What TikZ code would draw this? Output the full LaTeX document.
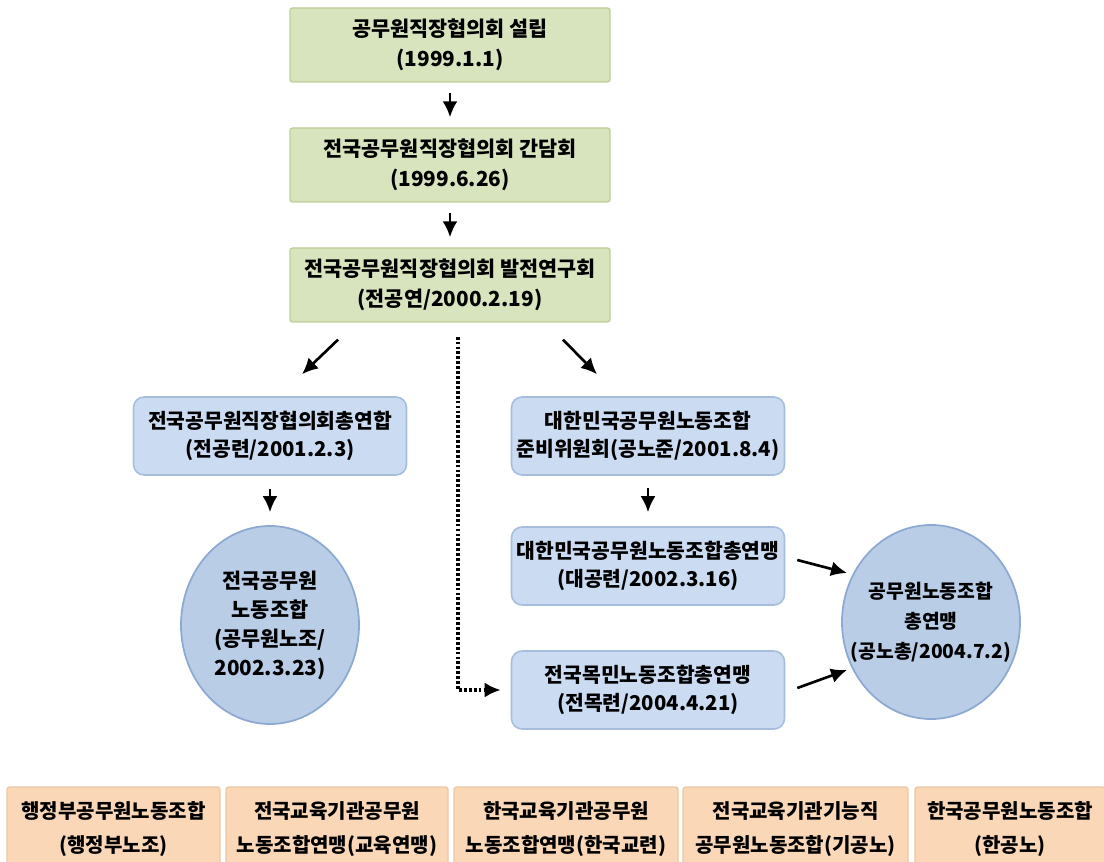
\documentclass[tikz,border=0pt]{standalone}
\usepackage{fontspec}
\setmainfont{Noto Sans CJK KR}
\usepackage{tikz}
\usetikzlibrary{positioning,shapes,arrows.meta,calc}

\definecolor{greenfill}{HTML}{D8E4BD}
\definecolor{greenline}{HTML}{BCCF98}
\definecolor{bluefill}{HTML}{CBDCF2}
\definecolor{blueline}{HTML}{A6BDDC}
\definecolor{ballfill}{HTML}{B9CDE6}
\definecolor{ballline}{HTML}{8DA9D2}
\definecolor{orgfill}{HTML}{FAD8B7}
\definecolor{orgline}{HTML}{EBC8A6}

\begin{document}
\begin{tikzpicture}[
    greenbox/.style={draw=greenline, fill=greenfill, line width=0.8pt, rounded corners=1.5pt,
        minimum width=6.4cm, minimum height=1.48cm, inner sep=0pt, align=center,
        font=\bfseries\fontsize{11.8}{17}\selectfont},
    bluebox/.style={draw=blueline, fill=bluefill, line width=0.9pt, rounded corners=6pt,
        minimum width=5.46cm, minimum height=1.56cm, inner sep=0pt, align=center,
        font=\bfseries\fontsize{11.6}{16}\selectfont},
    unionball/.style={ellipse, draw=ballline, fill=ballfill, line width=1pt,
        minimum width=3.56cm, inner sep=0pt, align=center,
        font=\bfseries\fontsize{11.8}{16.5}\selectfont},
    orgbox/.style={draw=orgline, fill=orgfill, line width=0.8pt, rounded corners=1.5pt,
        minimum height=1.68cm, inner sep=0pt, align=center,
        font=\bfseries\fontsize{11.4}{19}\selectfont},
    arr/.style={-{Latex[length=3.2mm, width=3mm]}, line width=1.5pt}
]
    \useasboundingbox (0,0) rectangle (22.08,-17.24);
    \clip (0,0) rectangle (22.08,-17.24);

    % council stage
    \node[greenbox] (G1) at (9.0,-0.9) {공무원직장협의회 설립\\(1999.1.1)};
    \node[greenbox] (G2) at (9.0,-3.3) {전국공무원직장협의회 간담회\\(1999.6.26)};
    \node[greenbox] (G3) at (9.0,-5.7) {전국공무원직장협의회 발전연구회\\(전공연/2000.2.19)};

    % two branches
    \node[bluebox] (B1) at (5.4,-8.72) {전국공무원직장협의회총연합\\(전공련/2001.2.3)};
    \node[unionball, minimum height=3.96cm] (E1) at (5.4,-12.5) {전국공무원\\노동조합\\(공무원노조/\\2002.3.23)};
    \node[bluebox] (R1) at (12.96,-8.72) {대한민국공무원노동조합\\준비위원회(공노준/2001.8.4)};
    \node[bluebox] (R2) at (12.96,-11.32) {대한민국공무원노동조합총연맹\\(대공련/2002.3.16)};
    \node[bluebox] (R3) at (12.96,-13.8) {전국목민노동조합총연맹\\(전목련/2004.4.21)};
    \node[unionball, minimum height=3.88cm, inner xsep=-0.62cm,
        font=\bfseries\fontsize{11}{17}\selectfont] (E2) at (18.62,-12.44) {공무원노동조합\\총연맹\\(공노총/2004.7.2)};

    % unions at the bottom
    \node[orgbox, minimum width=4.26cm] (O1) at (2.27,-16.58) {행정부공무원노동조합\\(행정부노조)};
    \node[orgbox, minimum width=4.44cm] (O2) at (6.74,-16.58) {전국교육기관공무원\\노동조합연맹(교육연맹)};
    \node[orgbox, minimum width=4.48cm] (O3) at (11.32,-16.58) {한국교육기관공무원\\노동조합연맹(한국교련)};
    \node[orgbox, minimum width=4.5cm] (O4) at (15.91,-16.58) {전국교육기관기능직\\공무원노동조합(기공노)};
    \node[orgbox, minimum width=3.8cm] (O5) at (20.2,-16.58) {한국공무원노동조합\\(한공노)};

    \draw[arr, shorten <=0.2cm, shorten >=0.2cm] (G1) -- (G2);
    \draw[arr, shorten <=0.2cm, shorten >=0.2cm] (G2) -- (G3);
    \draw[arr] ([xshift=-2.24cm, yshift=-0.34cm]G3.south) -- ([xshift=0.64cm, yshift=0.44cm]B1.north);
    \draw[arr] ([xshift=2.26cm, yshift=-0.34cm]G3.south) -- ([xshift=-1.02cm, yshift=0.44cm]R1.north);
    \draw[arr, shorten <=0.26cm, shorten >=0.26cm] (B1) -- (E1);
    \draw[arr, shorten <=0.24cm, shorten >=0.28cm] (R1) -- (R2);
    \draw[arr, line width=1.8pt, dash pattern=on 1.6pt off 1.2pt, shorten >=0.2cm]
        ([xshift=0.16cm, yshift=-0.28cm]G3.south) |- (R3.west);
    \draw[arr] ([xshift=0.24cm, yshift=0.12cm]R2.east) -- ([shift={(-1.68,0.98)}]E2.center);
    \draw[arr] ([xshift=0.24cm, yshift=0.04cm]R3.east) -- ([shift={(-1.68,-0.96)}]E2.center);
\end{tikzpicture}
\end{document}
